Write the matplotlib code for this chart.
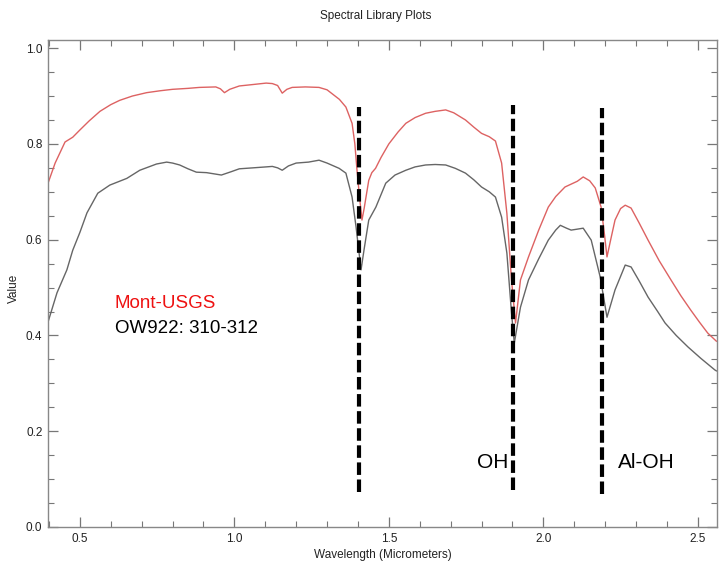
import matplotlib
matplotlib.use("Agg")
import matplotlib.pyplot as plt
from matplotlib.ticker import MultipleLocator

plt.rcParams["font.family"] = ["Liberation Sans", "DejaVu Sans"]

# Mont-USGS library spectrum (red)
wl_mont = [0.397, 0.42, 0.452, 0.477, 0.50, 0.53, 0.565, 0.60, 0.629, 0.67,
           0.716, 0.76, 0.80, 0.85, 0.887, 0.94, 0.955, 0.968, 0.985, 1.016,
           1.06, 1.103, 1.123, 1.14, 1.155, 1.17, 1.187, 1.23, 1.274, 1.30,
           1.316, 1.34, 1.361, 1.381, 1.39, 1.397, 1.405, 1.413, 1.42, 1.435,
           1.445, 1.457, 1.475, 1.50, 1.53, 1.555, 1.585, 1.619, 1.65, 1.684,
           1.71, 1.748, 1.775, 1.80, 1.825, 1.845, 1.865, 1.882, 1.897, 1.910,
           1.926, 1.952, 1.985, 2.016, 2.04, 2.07, 2.09, 2.11, 2.129, 2.15,
           2.168, 2.187, 2.198, 2.206, 2.218, 2.232, 2.25, 2.265, 2.284, 2.31,
           2.339, 2.375, 2.413, 2.445, 2.477, 2.505, 2.532, 2.56]
val_mont = [0.718, 0.760, 0.804, 0.814, 0.829, 0.848, 0.868, 0.882, 0.891, 0.900,
            0.907, 0.911, 0.914, 0.916, 0.918, 0.919, 0.915, 0.907, 0.914, 0.921,
            0.924, 0.927, 0.926, 0.922, 0.906, 0.914, 0.918, 0.919, 0.918, 0.913,
            0.905, 0.893, 0.877, 0.843, 0.800, 0.745, 0.690, 0.641, 0.665, 0.724,
            0.740, 0.749, 0.772, 0.800, 0.825, 0.843, 0.855, 0.864, 0.868, 0.871,
            0.865, 0.850, 0.835, 0.822, 0.815, 0.806, 0.760, 0.655, 0.516, 0.426,
            0.516, 0.564, 0.620, 0.668, 0.690, 0.710, 0.716, 0.722, 0.731, 0.723,
            0.708, 0.668, 0.610, 0.564, 0.600, 0.641, 0.665, 0.672, 0.666, 0.635,
            0.599, 0.556, 0.516, 0.483, 0.453, 0.428, 0.405, 0.388]

# OW922: 310-312 sample spectrum (gray)
wl_ow = [0.397, 0.426, 0.458, 0.477, 0.50, 0.523, 0.558, 0.597, 0.652, 0.694,
         0.748, 0.781, 0.80, 0.823, 0.85, 0.877, 0.91, 0.958, 0.99, 1.016,
         1.06, 1.103, 1.123, 1.14, 1.155, 1.175, 1.20, 1.24, 1.274, 1.30,
         1.339, 1.361, 1.381, 1.394, 1.41, 1.42, 1.435, 1.458, 1.49, 1.52,
         1.555, 1.585, 1.619, 1.65, 1.684, 1.715, 1.748, 1.775, 1.80, 1.825,
         1.845, 1.865, 1.882, 1.897, 1.906, 1.926, 1.952, 1.985, 2.016, 2.04,
         2.055, 2.075, 2.09, 2.11, 2.129, 2.155, 2.184, 2.206, 2.232, 2.265,
         2.284, 2.31, 2.339, 2.37, 2.394, 2.43, 2.468, 2.51, 2.555, 2.56]
val_ow = [0.428, 0.489, 0.537, 0.578, 0.615, 0.656, 0.697, 0.714, 0.728, 0.745,
          0.758, 0.762, 0.760, 0.756, 0.748, 0.741, 0.740, 0.735, 0.742, 0.748,
          0.750, 0.752, 0.753, 0.750, 0.745, 0.754, 0.760, 0.762, 0.766, 0.760,
          0.749, 0.739, 0.689, 0.626, 0.537, 0.580, 0.641, 0.668, 0.718, 0.735,
          0.745, 0.752, 0.756, 0.757, 0.756, 0.749, 0.739, 0.725, 0.710, 0.700,
          0.689, 0.647, 0.572, 0.447, 0.384, 0.459, 0.516, 0.560, 0.599, 0.620,
          0.630, 0.624, 0.620, 0.622, 0.624, 0.599, 0.522, 0.438, 0.495, 0.547,
          0.543, 0.514, 0.480, 0.450, 0.426, 0.400, 0.376, 0.352, 0.328, 0.326]

# absorption feature markers
feature_wl = [1.403, 1.903, 2.19]
feature_top = [0.877, 0.882, 0.875]
feature_bottom = [0.073, 0.077, 0.069]

x_ticks = [0.5, 1.0, 1.5, 2.0, 2.5]
y_ticks = [0.0, 0.2, 0.4, 0.6, 0.8, 1.0]

fig = plt.figure(figsize=(7.19, 5.65), dpi=100)
ax = fig.add_axes([0.0668, 0.0673, 0.9304, 0.8619])

ax.plot(wl_mont, val_mont, color="#dd6262", linewidth=1.0)
ax.plot(wl_ow, val_ow, color="#666666", linewidth=1.0)

for x, y0, y1 in zip(feature_wl, feature_bottom, feature_top):
    ax.plot([x, x], [y0, y1], color="black", linewidth=3.0,
            linestyle=(0, (3, 1.1)), solid_capstyle="butt")

ax.set_xlim(0.397, 2.562)
ax.set_ylim(0.0, 1.017)

ax.set_xticks(x_ticks)
ax.set_xticklabels([f"{t:.1f}" for t in x_ticks])
ax.set_yticks(y_ticks)
ax.set_yticklabels([f"{t:.1f}" for t in y_ticks])
ax.xaxis.set_minor_locator(MultipleLocator(0.1))
ax.yaxis.set_minor_locator(MultipleLocator(0.05))

ax.tick_params(which="both", direction="in", top=True, right=True,
               color="#777777", labelsize=8.5, labelcolor="#222222")
ax.tick_params(which="major", length=7, width=0.9, pad=4)
ax.tick_params(which="minor", length=4, width=0.8)

for s in ax.spines.values():
    s.set_color("#888888")
    s.set_linewidth(1.0)

narrow = ["Liberation Sans Narrow", "Liberation Sans", "DejaVu Sans"]
ax.set_xlabel("Wavelength (Micrometers)", fontsize=8.5, family=narrow,
              color="#222222", labelpad=3)
ax.set_ylabel("Value", fontsize=8.5, family=narrow, color="#222222")
ax.yaxis.set_label_coords(-0.042, 0.49)
fig.text(0.522, 0.972, "Spectral Library Plots", fontsize=8.5, family=narrow,
         color="#222222", ha="center", va="center")

ax.text(0.613, 0.457, "Mont-USGS", color="#ee1111", fontsize=13.5,
        va="baseline")
ax.text(0.613, 0.405, "OW922: 310-312", color="black", fontsize=13.5,
        va="baseline")
ax.text(1.784, 0.123, "OH", color="black", fontsize=15, va="baseline")
ax.text(2.242, 0.123, "Al-OH", color="black", fontsize=15, va="baseline")

fig.savefig("out.png", dpi=100)
